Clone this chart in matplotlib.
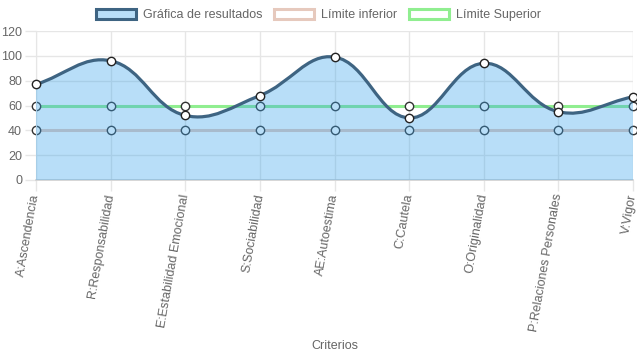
import numpy as np
import matplotlib
matplotlib.use("Agg")
import matplotlib.pyplot as plt
from matplotlib.path import Path
from matplotlib.patches import PathPatch, Patch

plt.rcParams['font.family'] = ['Liberation Sans', 'DejaVu Sans']

categories = ["A:Ascendencia", "R:Responsabilidad", "E:Estabilidad Emocional",
              "S:Sociabilidad", "AE:Autoestima", "C:Cautela", "O:Originalidad",
              "P:Relaciones Personales", "V:Vigor"]
resultados = [77, 96, 52, 68, 99, 50, 94, 55, 67]
limite_inferior = [40, 40, 40, 40, 40, 40, 40, 40, 40]
limite_superior = [60, 60, 60, 60, 60, 60, 60, 60, 60]
y_ticks = [0, 20, 40, 60, 80, 100, 120]

W, H = 637, 359
fig = plt.figure(figsize=(W / 100, H / 100), dpi=100)
ax = fig.add_axes([36 / W, 1 - 180 / H, (633 - 36) / W, (180 - 31) / H])
x = np.arange(len(categories))
ax.set_xlim(0, len(categories) - 1)
ax.set_ylim(0, 120)

grid = '#e6e6e6'
txt = '#666666'
blue_fill = (54 / 255, 162 / 255, 235 / 255, 0.35)
line_col = '#3e6482'
low_col = '#e6c9bd'
up_col = '#90ee90'


def spline_path(xs, ys, t=0.4):
    pts = ax.transData.transform(np.column_stack([xs, ys]))
    n = len(pts)
    cps = []
    for i in range(n):
        prev = pts[i - 1] if i > 0 else pts[i]
        cur = pts[i]
        nxt = pts[i + 1] if i < n - 1 else pts[i]
        d01 = np.hypot(*(cur - prev))
        d12 = np.hypot(*(nxt - cur))
        tot = d01 + d12
        s01 = d01 / tot if tot else 0
        s12 = d12 / tot if tot else 0
        fa, fb = t * s01, t * s12
        cps.append((cur - fa * (nxt - prev), cur + fb * (nxt - prev)))
    verts = [pts[0]]
    codes = [Path.MOVETO]
    for i in range(n - 1):
        verts += [cps[i][1], cps[i + 1][0], pts[i + 1]]
        codes += [Path.CURVE4] * 3
    inv = ax.transData.inverted()
    return inv.transform(np.array(verts)), codes


# limit datasets (drawn underneath)
ax.plot(x, limite_superior, color=up_col, lw=2.2, zorder=2, clip_on=False)
ax.plot(x, limite_inferior, color=low_col, lw=2.2, zorder=2, clip_on=False)
ax.plot(x, limite_superior, ls='none', marker='o', ms=6, mfc='white', mec='#333333',
        mew=1, zorder=2.1, clip_on=False)
ax.plot(x, limite_inferior, ls='none', marker='o', ms=6, mfc='white', mec='#333333',
        mew=1, zorder=2.1, clip_on=False)

# results dataset
verts, codes = spline_path(x, resultados)
fill_verts = np.vstack([verts, [[x[-1], 0], [x[0], 0], verts[0]]])
fill_codes = codes + [Path.LINETO, Path.LINETO, Path.CLOSEPOLY]
ax.add_patch(PathPatch(Path(fill_verts, fill_codes), facecolor=blue_fill,
                       edgecolor='none', zorder=3))
ax.add_patch(PathPatch(Path(verts, codes), facecolor='none', edgecolor=line_col,
                       lw=2.3, zorder=4, capstyle='round'))
ax.plot(x, resultados, ls='none', marker='o', ms=6, mfc='white', mec='#222222',
        mew=1, zorder=5, clip_on=False)

# axes styling
ax.set_yticks(y_ticks)
ax.set_yticklabels([str(v) for v in y_ticks], fontsize=9, color=txt)
ax.set_xticks(x)
ax.set_xticklabels(categories, fontsize=9, color=txt, rotation=80,
                   ha='right', va='center', rotation_mode='anchor')
ax.tick_params(axis='both', length=8, color=grid, width=1, pad=2)
ax.tick_params(axis='x', pad=2)
ax.grid(True, color=grid, lw=1, zorder=0)
ax.set_axisbelow(True)
for side in ['top', 'right']:
    ax.spines[side].set_visible(False)
ax.spines['left'].set_color(grid)
ax.spines['bottom'].set_color('#d0d0d0')
ax.spines['bottom'].set_linewidth(1.2)

fig.text(334.5 / W, 1 - 346 / H, 'Criterios', ha='center', va='center',
         fontsize=9, color=txt)

handles = [
    Patch(facecolor=blue_fill, edgecolor=line_col, lw=2.2),
    Patch(facecolor='white', edgecolor=low_col, lw=2.2),
    Patch(facecolor='white', edgecolor=up_col, lw=2.2),
]
labels = ['Gráfica de resultados', 'Límite inferior', 'Límite Superior']
leg = fig.legend(handles, labels, loc='center', bbox_to_anchor=(0.5, 1 - 15 / H),
                 ncol=3, frameon=False, fontsize=9, handlelength=3.2,
                 handleheight=0.9, handletextpad=0.6, columnspacing=0.9)
for t in leg.get_texts():
    t.set_color(txt)

fig.savefig('out.png', dpi=100)
